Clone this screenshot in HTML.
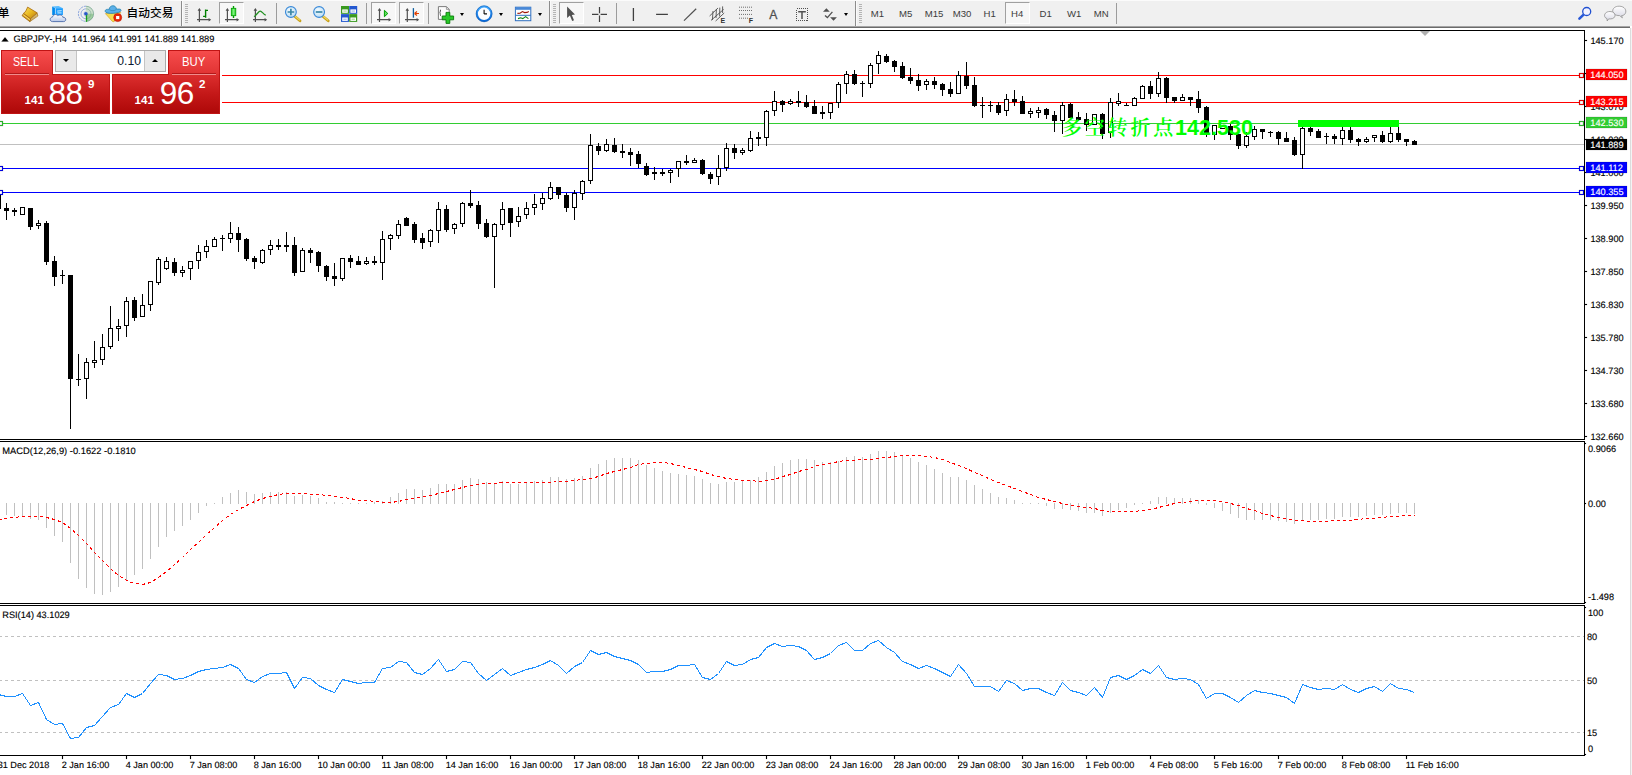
<!DOCTYPE html>
<html lang="zh"><head><meta charset="utf-8"><title>GBPJPY-,H4</title>
<style>
html,body{margin:0;padding:0}
body{width:1632px;height:775px;overflow:hidden;background:#fff;position:relative;font-family:"Liberation Sans","Noto Sans CJK SC",sans-serif}
#tb{position:absolute;left:0;top:0;width:1632px;height:26px;background:#f0f0f0;border-top:1px solid #fbfbfb;box-sizing:border-box}
#tbl{position:absolute;left:0;top:26px;width:1630px;height:2px;background:linear-gradient(#a4a4a4 0 50%,#6a6a6a 50% 100%)}
.sep{position:absolute;top:3px;width:1px;height:21px;background:#9c9c9c}
.sepf{position:absolute;top:1px;width:1px;height:25px;background:#8c8c8c;box-shadow:1px 0 0 #fafafa}
.grip{position:absolute;top:4px;width:3px;height:20px;background:repeating-linear-gradient(#b4b4b4 0 1px,transparent 1px 2px)}
.pr{position:absolute;top:2px;height:22px;box-sizing:border-box;border:1px solid;border-color:#a0a0a0 #fff #fff #a0a0a0;background:#f7f7f7}
.tf{position:absolute;top:8.2px;font-size:9.6px;color:#3c3c3c;line-height:11px;white-space:nowrap}
.cj{position:absolute;font-size:11.7px;line-height:14px;color:#000;white-space:nowrap;font-weight:500}
.ic{position:absolute;top:0;left:0}
.dd{position:absolute;top:12.8px;width:0;height:0;border:2.9px solid transparent;border-top:3.5px solid #000;border-bottom:0}
/* trade panel */
#tp{position:absolute;left:0;top:46px;width:222px;height:70px;background:#fff}
.rb{position:absolute;box-sizing:border-box;border:1px solid #c01414;background:linear-gradient(#f24848 0%,#d82a2a 45%,#b40a0a 100%)}
.rt{position:absolute;color:#fff;white-space:nowrap}
</style></head><body>
<div id="tb"></div><div id="tbl"></div>
<span class="cj" style="left:-2.3px;top:5.7px">单</span>
<span class="cj" style="left:126.6px;top:5.7px">自动交易</span>
<div class="sepf" style="left:181px"></div><div class="grip" style="left:185px"></div>
<div class="pr" style="left:219px;width:25px"></div>
<div class="sep" style="left:276px"></div>
<div class="sep" style="left:366px"></div>
<div class="pr" style="left:371px;width:25px"></div>
<div class="pr" style="left:399px;width:25px"></div>
<div class="sep" style="left:428px"></div>
<div class="dd" style="left:460px"></div><div class="dd" style="left:499px"></div><div class="dd" style="left:538px"></div>
<div class="sepf" style="left:549px"></div><div class="grip" style="left:553px"></div>
<div class="pr" style="left:559px;width:25px"></div>
<div class="sep" style="left:616px"></div>
<div class="dd" style="left:844px"></div>
<div class="sepf" style="left:855px"></div><div class="grip" style="left:859px"></div>
<div class="pr" style="left:1005px;width:25px"></div>
<span class="tf" style="left:870.8px">M1</span><span class="tf" style="left:898.9px">M5</span><span class="tf" style="left:924.7px">M15</span><span class="tf" style="left:952.8px">M30</span><span class="tf" style="left:983.5px">H1</span><span class="tf" style="left:1011px">H4</span><span class="tf" style="left:1039.6px">D1</span><span class="tf" style="left:1067px">W1</span><span class="tf" style="left:1093.8px">MN</span>
<div class="sep" style="left:1116px"></div>
<svg width="1632" height="28" viewBox="0 0 1632 28" style="position:absolute;left:0;top:0">
<defs>
<linearGradient id="gold" x1="0" y1="0" x2="1" y2="1"><stop offset="0" stop-color="#f8e060"/><stop offset=".5" stop-color="#e8b820"/><stop offset="1" stop-color="#b87810"/></linearGradient>
<linearGradient id="cloud" x1="0" y1="0" x2="0" y2="1"><stop offset="0" stop-color="#ffffff"/><stop offset="1" stop-color="#b8c8e8"/></linearGradient>
<linearGradient id="blu" x1="0" y1="0" x2="0" y2="1"><stop offset="0" stop-color="#40a8ff"/><stop offset="1" stop-color="#0868d8"/></linearGradient>
<linearGradient id="grn" x1="0" y1="0" x2="1" y2="0"><stop offset="0" stop-color="#20d020"/><stop offset=".5" stop-color="#80f080"/><stop offset="1" stop-color="#20d020"/></linearGradient>
<radialGradient id="lens" cx=".4" cy=".35" r=".7"><stop offset="0" stop-color="#f4fbff"/><stop offset="1" stop-color="#b8dcf4"/></radialGradient>
<linearGradient id="bub" x1="0" y1="0" x2="0" y2="1"><stop offset="0" stop-color="#ffffff"/><stop offset="1" stop-color="#d8d8e4"/></linearGradient>
</defs>
<!-- book -->
<path d="M37.1 12.8 L37.9 16 L29.8 21.6 L30.4 18.6 Z" fill="#e8dca0" stroke="#a06810" stroke-width=".7"/>
<path d="M36.9 14.2 L30.2 19.8 M37.4 15.2 L30 20.8" stroke="#a87820" stroke-width=".5"/>
<path d="M23.6 13.4 L30.6 18.6 L29.8 21.6 L22.1 15.7 Z" fill="#d8a020" stroke="#9a6008" stroke-width=".8"/>
<path d="M23.2 14.6 L30.2 19.9" stroke="#f8e070" stroke-width=".9"/>
<path d="M27.6 7.1 L37.1 12.8 L30.6 18.6 L23.6 13.4 C25.6 12 26.6 9.6 27.6 7.1 Z" fill="url(#gold)" stroke="#a86a10" stroke-width=".8"/>
<!-- cloud server -->
<path d="M52.2 6.6 L55.4 8.2 L55.4 15 L52.2 15 Z" fill="#0088ec"/>
<path d="M52.2 6.6 L58.6 6.1 L62.9 8.2 L55.4 8.2 Z" fill="#58bcff"/>
<path d="M55.4 8.2 H62.9 V15 H55.4 Z" fill="#189cff"/>
<path d="M55.4 8.2 V15" stroke="#d8f0ff" stroke-width=".6"/>
<path d="M57.2 11.1 L61.7 10.7 M57.4 12.9 H61.6" stroke="#e8f6ff" stroke-width=".9"/>
<path d="M52.6 21.6 C49.4 21.6 49.4 17.3 52.6 17 C52.8 14.4 56.4 13.6 57.9 15.8 C59.4 14.2 62.6 15 62.8 17.2 C66.4 17 66.8 21.6 63.4 21.6 Z" fill="url(#cloud)" stroke="#4868a8" stroke-width=".9"/>
<!-- signal -->
<path d="M86 6.2 A7.6 7.6 0 0 1 86 21.4 L86 13.8 Z" fill="#78b878" opacity=".28"/>
<path d="M86 13.8 L93.4 13.8 A7.6 7.6 0 0 1 86 21.4 Z" fill="#58b058" opacity=".4"/>
<g fill="none" stroke-width="1">
<path d="M86 6.2 A7.6 7.6 0 0 0 86 21.4" stroke="#5078d0" opacity=".6" stroke-dasharray="2.2 .8"/>
<path d="M86 8.8 A5 5 0 0 0 86 18.8" stroke="#5078d0" opacity=".55"/>
<path d="M86 11 A2.9 2.9 0 0 0 86 16.6" stroke="#5078d0" opacity=".3"/>
<path d="M86 6.2 A7.6 7.6 0 0 1 86 21.4" stroke="#4a8a70" opacity=".55"/>
<path d="M86 8.8 A5 5 0 0 1 86 18.8" stroke="#6aa088" opacity=".5"/>
</g>
<path d="M86.5 14 L86.5 21.8" stroke="#18a018" stroke-width="1.3"/>
<circle cx="85.9" cy="13.7" r="1.8" fill="#2858c8"/>
<!-- expert -->
<path d="M105.4 13.6 L120.8 12.5 L114 21.8 L112.4 21.4 Z" fill="#f6dc50" stroke="#d09818" stroke-width=".6"/>
<path d="M105.2 11.4 C105 8.6 108.4 9.6 109.2 9.2 C109.8 4.6 116 4.6 116.4 9 C118 9.4 121.2 8.2 121 10.6 C120.6 13.6 105.6 14.6 105.2 11.4 Z" fill="#5cb0e8" stroke="#2080b0" stroke-width=".8"/>
<path d="M109.4 9.6 C111.4 11.2 114.6 11 116.4 9.4" fill="none" stroke="#2080b0" stroke-width=".6"/>
<circle cx="117.7" cy="17.6" r="4" fill="#e82808" stroke="#b81400" stroke-width=".6"/>
<rect x="116.1" y="16" width="3.2" height="3.1" fill="#fff"/>
<!-- chart-type icons axes -->
<g stroke="#505050" stroke-width="1.2" fill="#505050">
<path d="M199.4 9 V22 M197 19.7 H210" fill="none"/><path d="M197.6 10.8 L199.4 8 L201.2 10.8 Z M208.6 17.9 L211.2 19.7 L208.6 21.5 Z" stroke="none"/>
<path d="M227.4 9 V22 M225 19.7 H238" fill="none"/><path d="M225.6 10.8 L227.4 8 L229.2 10.8 Z M236.6 17.9 L239.2 19.7 L236.6 21.5 Z" stroke="none"/>
<path d="M255.4 9 V22 M253 19.7 H266" fill="none"/><path d="M253.6 10.8 L255.4 8 L257.2 10.8 Z M264.6 17.9 L267.2 19.7 L264.6 21.5 Z" stroke="none"/>
<path d="M379.5 9 V22 M377 19.7 H390" fill="none"/><path d="M377.7 10.8 L379.5 8 L381.3 10.8 Z M388.6 17.9 L391.2 19.7 L388.6 21.5 Z" stroke="none"/>
<path d="M407.3 9 V22 M405 19.7 H418" fill="none"/><path d="M405.5 10.8 L407.3 8 L409.1 10.8 Z M416.6 17.9 L419.2 19.7 L416.6 21.5 Z" stroke="none"/>
</g>
<path d="M205.6 9.4 V17.7 M205.6 10.4 H208 M203.1 16.4 H205.6" stroke="#008000" stroke-width="1.4" fill="none"/>
<path d="M233.5 6 V18" stroke="#00a000" stroke-width="1.4"/><rect x="231.3" y="8.3" width="4.5" height="7.4" fill="url(#grn)" stroke="#00a000" stroke-width=".8"/>
<path d="M254 16.6 C257 15 258.5 11 260.2 11.1 C262 11.2 263.5 14.6 265.8 15.2" stroke="#209020" stroke-width="1.2" fill="none"/>
<path d="M384.4 10.3 L387.8 13.5 L384.4 16.7 Z" fill="#60e060" stroke="#00a000" stroke-width="1"/>
<path d="M413.4 8.1 V17.7" stroke="#1060a0" stroke-width="1.3"/>
<path d="M414.4 13.5 H419 M414.4 13.5 L417 11.6 M414.4 13.5 L417 15.4" stroke="#e04000" stroke-width="1.2" fill="none"/>
<!-- zoom in/out -->
<path d="M294.6 16.2 L300 20.8" stroke="#c8a018" stroke-width="2.8" stroke-linecap="round"/><path d="M294.8 16 L300 20.4" stroke="#f0d860" stroke-width="1.2"/>
<circle cx="290.9" cy="12" r="5.4" fill="url(#lens)" stroke="#3888d8" stroke-width="1.1"/>
<path d="M287.6 12 H294.2 M290.9 8.7 V15.3" stroke="#3c88a8" stroke-width="1.7"/>
<path d="M322.8 16.2 L328.2 20.8" stroke="#c8a018" stroke-width="2.8" stroke-linecap="round"/><path d="M323 16 L328.2 20.4" stroke="#f0d860" stroke-width="1.2"/>
<circle cx="319.1" cy="12" r="5.4" fill="url(#lens)" stroke="#3888d8" stroke-width="1.1"/>
<path d="M315.8 12 H322.4" stroke="#3c88a8" stroke-width="1.7"/>
<!-- tile -->
<rect x="341" y="6" width="8" height="7.8" fill="#3a9a20"/><rect x="349.2" y="6" width="8" height="7.8" fill="#2458d0"/>
<rect x="341" y="14.1" width="8" height="7.8" fill="#2458d0"/><rect x="349.2" y="14.1" width="8" height="7.8" fill="#3a9a20"/>
<g fill="#fff"><rect x="342.2" y="9.4" width="5.6" height="3.4"/><rect x="350.4" y="9.4" width="5.6" height="3.4"/><rect x="342.2" y="17.5" width="5.6" height="3.4"/><rect x="350.4" y="17.5" width="5.6" height="3.4"/></g>
<g><rect x="343.3" y="10.6" width="3.4" height=".9" fill="#8cc878"/><rect x="351.5" y="10.6" width="3.4" height=".9" fill="#88a8e8"/><rect x="343.3" y="18.7" width="3.4" height=".9" fill="#88a8e8"/><rect x="351.5" y="18.7" width="3.4" height=".9" fill="#8cc878"/></g>
<!-- indicators -->
<path d="M438.4 6.6 H446.4 L449.2 9.4 V19.4 H438.4 Z" fill="#fcfcfc" stroke="#7c7c7c" stroke-width="1"/><path d="M446.4 6.6 V9.4 H449.2" fill="none" stroke="#7c7c7c" stroke-width=".7"/>
<path d="M441 9.5 C440 9.5 440.6 12.6 439.8 12.8 C440.6 13 440 16 441 16" stroke="#404040" stroke-width=".9" fill="none"/>
<path d="M446 12.4 H449.8 V16 H453.6 V19.8 H449.8 V23.4 H446 V19.8 H442.2 V16 H446 Z" fill="#28c828" stroke="#0a7a0a" stroke-width=".9"/>
<!-- clock -->
<circle cx="484.1" cy="13.8" r="7.2" fill="#fafcff" stroke="url(#blu)" stroke-width="2"/>
<circle cx="484.1" cy="13.8" r="8" fill="none" stroke="#0850a8" stroke-width=".5"/>
<path d="M484.1 13.9 V9.8 M484.1 13.9 H487" stroke="#101010" stroke-width="1.1" fill="none"/>
<!-- templates -->
<rect x="515.4" y="7.2" width="15.4" height="13.5" fill="#fff" stroke="#3070c0" stroke-width="1"/>
<rect x="515.4" y="7.2" width="15.4" height="2.6" fill="#4888d8"/>
<path d="M515.4 15.3 H530.8" stroke="#3070c0" stroke-width="1"/>
<path d="M517.4 13.4 L520 13.2 L522.4 11.6 L524.6 12.6 L527 12.4 L528.8 11.4" stroke="#a01808" stroke-width="1.1" fill="none"/>
<path d="M518 18.6 L520.6 17.8 L522.8 18.6 L525.6 16.6 L528.4 18.6" stroke="#108010" stroke-width="1.1" fill="none"/>
<!-- cursor -->
<path d="M567.1 6.6 V18 L569.9 15.6 L572.2 21 L574 20.2 L571.8 15 L575 14.4 Z" fill="#505050"/>
<!-- crosshair -->
<path d="M592 14.4 H598.4 M600.6 14.4 H607 M599.5 7.1 V13.3 M599.5 15.5 V21.9" stroke="#404040" stroke-width="1.2" fill="none"/>
<!-- lines -->
<path d="M633.4 8.1 V20.9 M656.1 14.4 H667.9" stroke="#404040" stroke-width="1.3" fill="none"/>
<path d="M684 20.6 L696.2 8.8" stroke="#505050" stroke-width="1.2"/>
<g stroke="#505050" stroke-width=".9" fill="none"><path d="M709.6 16 L718 8 M711 20.4 L723.6 9.4 M715.6 21 L724.2 13"/><path d="M713 11 L712.4 20 M716.4 9 L716 18 M719.8 7.6 L719.6 16.4 M722.6 6.4 L722.6 13"/></g>
<text x="720.6" y="22.7" font-family="Liberation Sans, sans-serif" font-weight="bold" font-size="7" fill="#303030">E</text>
<g stroke="#606060" stroke-width=".9" stroke-dasharray="1 1" fill="none"><path d="M739 7.2 H752.4 M739 10.5 H752.4 M739 14.4 H752.4 M739 18.2 H748"/></g>
<text x="748.7" y="22.7" font-family="Liberation Sans, sans-serif" font-weight="bold" font-size="7" fill="#303030">F</text>
<text x="769.2" y="18.9" font-family="Liberation Sans, sans-serif" font-size="12.2" fill="#505050" stroke="#505050" stroke-width=".3">A</text>
<rect x="796.5" y="8.5" width="11" height="12" fill="none" stroke="#505050" stroke-width="1" stroke-dasharray="1 1" shape-rendering="crispEdges"/>
<path d="M798.2 11.8 H805.8 M802 11.8 V18.9" stroke="#505050" stroke-width="1.5" fill="none"/>
<path d="M826.4 8.2 L829.8 11.8 H823 Z M833.5 20.8 L830.1 17.2 H836.9 Z" fill="#505050"/><path d="M825 15.4 L827.4 17.6 L832.4 11.8" stroke="#505050" stroke-width="1.3" fill="none"/>
<!-- search + chat -->
<path d="M1583.6 14.6 L1579.4 18.6" stroke="#2858d8" stroke-width="2.6" stroke-linecap="round"/>
<circle cx="1586.7" cy="11.5" r="4" fill="#f2f2ff" stroke="#2050d0" stroke-width="1.3"/>
<path d="M1619.1 6.2 C1627.6 6.2 1627.6 15.4 1621.6 15.6 L1622.4 17.8 L1619.6 15.6 C1610.4 15.8 1610.6 6.2 1619.1 6.2 Z" fill="url(#bub)" stroke="#909090" stroke-width=".8"/>
<path d="M1610 11.5 C1616.6 11.5 1616.6 18.9 1610.6 18.9 L1608.6 18.9 L1607.2 21 L1607 18.6 C1603.2 17.6 1603.6 11.5 1610 11.5 Z" fill="url(#bub)" stroke="#909090" stroke-width=".8"/>
</svg>

<svg width="1632" height="775" viewBox="0 0 1632 775" style="position:absolute;left:0;top:0" shape-rendering="crispEdges">
<rect x="222" y="75" width="1362" height="1" fill="#ff0000"/>
<rect x="222" y="102" width="1362" height="1" fill="#ff0000"/>
<rect x="0" y="123" width="1584" height="1" fill="#32cd32"/>
<rect x="0" y="144" width="1584" height="1" fill="#c0c0c0"/>
<rect x="0" y="168" width="1584" height="1" fill="#0000ff"/>
<rect x="0" y="192" width="1584" height="1" fill="#0000ff"/>
<g id="candles">
<rect x="-4" y="192" width="5" height="17" fill="#000"/>
<rect x="6" y="203" width="1" height="17" fill="#000"/>
<rect x="4" y="208" width="5" height="3" fill="#000"/>
<rect x="14" y="208" width="1" height="8" fill="#000"/>
<rect x="12" y="210" width="5" height="2" fill="#000"/>
<rect x="22" y="207" width="1" height="8" fill="#000"/>
<rect x="20" y="207" width="5" height="8" fill="#000"/>
<rect x="21" y="208" width="3" height="6" fill="#fff"/>
<rect x="30" y="208" width="1" height="22" fill="#000"/>
<rect x="28" y="208" width="5" height="19" fill="#000"/>
<rect x="38" y="220" width="1" height="9" fill="#000"/>
<rect x="36" y="223" width="5" height="3" fill="#000"/>
<rect x="37" y="224" width="3" height="1" fill="#fff"/>
<rect x="46" y="221" width="1" height="44" fill="#000"/>
<rect x="44" y="223" width="5" height="39" fill="#000"/>
<rect x="54" y="256" width="1" height="30" fill="#000"/>
<rect x="52" y="261" width="5" height="16" fill="#000"/>
<rect x="62" y="270" width="1" height="14" fill="#000"/>
<rect x="60" y="275" width="5" height="1" fill="#000"/>
<rect x="70" y="275" width="1" height="154" fill="#000"/>
<rect x="68" y="275" width="5" height="104" fill="#000"/>
<rect x="78" y="354" width="1" height="32" fill="#000"/>
<rect x="76" y="379" width="5" height="1" fill="#000"/>
<rect x="86" y="358" width="1" height="41" fill="#000"/>
<rect x="84" y="362" width="5" height="17" fill="#000"/>
<rect x="85" y="363" width="3" height="15" fill="#fff"/>
<rect x="94" y="341" width="1" height="27" fill="#000"/>
<rect x="92" y="360" width="5" height="3" fill="#000"/>
<rect x="93" y="361" width="3" height="1" fill="#fff"/>
<rect x="102" y="334" width="1" height="31" fill="#000"/>
<rect x="100" y="347" width="5" height="13" fill="#000"/>
<rect x="101" y="348" width="3" height="11" fill="#fff"/>
<rect x="110" y="306" width="1" height="43" fill="#000"/>
<rect x="108" y="328" width="5" height="19" fill="#000"/>
<rect x="109" y="329" width="3" height="17" fill="#fff"/>
<rect x="118" y="319" width="1" height="22" fill="#000"/>
<rect x="116" y="326" width="5" height="3" fill="#000"/>
<rect x="117" y="327" width="3" height="1" fill="#fff"/>
<rect x="126" y="297" width="1" height="40" fill="#000"/>
<rect x="124" y="301" width="5" height="25" fill="#000"/>
<rect x="125" y="302" width="3" height="23" fill="#fff"/>
<rect x="134" y="297" width="1" height="24" fill="#000"/>
<rect x="132" y="300" width="5" height="18" fill="#000"/>
<rect x="142" y="294" width="1" height="23" fill="#000"/>
<rect x="140" y="305" width="5" height="12" fill="#000"/>
<rect x="141" y="306" width="3" height="10" fill="#fff"/>
<rect x="150" y="281" width="1" height="30" fill="#000"/>
<rect x="148" y="281" width="5" height="24" fill="#000"/>
<rect x="149" y="282" width="3" height="22" fill="#fff"/>
<rect x="158" y="257" width="1" height="28" fill="#000"/>
<rect x="156" y="259" width="5" height="24" fill="#000"/>
<rect x="157" y="260" width="3" height="22" fill="#fff"/>
<rect x="166" y="257" width="1" height="13" fill="#000"/>
<rect x="164" y="261" width="5" height="8" fill="#000"/>
<rect x="165" y="262" width="3" height="6" fill="#fff"/>
<rect x="174" y="258" width="1" height="18" fill="#000"/>
<rect x="172" y="262" width="5" height="11" fill="#000"/>
<rect x="182" y="266" width="1" height="11" fill="#000"/>
<rect x="180" y="270" width="5" height="3" fill="#000"/>
<rect x="181" y="271" width="3" height="1" fill="#fff"/>
<rect x="190" y="261" width="1" height="19" fill="#000"/>
<rect x="188" y="261" width="5" height="8" fill="#000"/>
<rect x="189" y="262" width="3" height="6" fill="#fff"/>
<rect x="198" y="245" width="1" height="24" fill="#000"/>
<rect x="196" y="252" width="5" height="9" fill="#000"/>
<rect x="197" y="253" width="3" height="7" fill="#fff"/>
<rect x="206" y="240" width="1" height="18" fill="#000"/>
<rect x="204" y="246" width="5" height="6" fill="#000"/>
<rect x="205" y="247" width="3" height="4" fill="#fff"/>
<rect x="214" y="237" width="1" height="10" fill="#000"/>
<rect x="212" y="239" width="5" height="8" fill="#000"/>
<rect x="213" y="240" width="3" height="6" fill="#fff"/>
<rect x="222" y="235" width="1" height="16" fill="#000"/>
<rect x="220" y="238" width="5" height="1" fill="#000"/>
<rect x="230" y="222" width="1" height="21" fill="#000"/>
<rect x="228" y="233" width="5" height="6" fill="#000"/>
<rect x="229" y="234" width="3" height="4" fill="#fff"/>
<rect x="238" y="227" width="1" height="25" fill="#000"/>
<rect x="236" y="233" width="5" height="7" fill="#000"/>
<rect x="246" y="238" width="1" height="23" fill="#000"/>
<rect x="244" y="239" width="5" height="20" fill="#000"/>
<rect x="254" y="256" width="1" height="13" fill="#000"/>
<rect x="252" y="258" width="5" height="4" fill="#000"/>
<rect x="262" y="249" width="1" height="15" fill="#000"/>
<rect x="260" y="250" width="5" height="13" fill="#000"/>
<rect x="261" y="251" width="3" height="11" fill="#fff"/>
<rect x="270" y="240" width="1" height="15" fill="#000"/>
<rect x="268" y="245" width="5" height="5" fill="#000"/>
<rect x="269" y="246" width="3" height="3" fill="#fff"/>
<rect x="278" y="239" width="1" height="11" fill="#000"/>
<rect x="276" y="245" width="5" height="2" fill="#000"/>
<rect x="286" y="232" width="1" height="20" fill="#000"/>
<rect x="284" y="245" width="5" height="2" fill="#000"/>
<rect x="294" y="237" width="1" height="39" fill="#000"/>
<rect x="292" y="245" width="5" height="28" fill="#000"/>
<rect x="302" y="248" width="1" height="24" fill="#000"/>
<rect x="300" y="250" width="5" height="22" fill="#000"/>
<rect x="301" y="251" width="3" height="20" fill="#fff"/>
<rect x="310" y="248" width="1" height="15" fill="#000"/>
<rect x="308" y="250" width="5" height="3" fill="#000"/>
<rect x="318" y="251" width="1" height="21" fill="#000"/>
<rect x="316" y="252" width="5" height="14" fill="#000"/>
<rect x="326" y="265" width="1" height="16" fill="#000"/>
<rect x="324" y="266" width="5" height="11" fill="#000"/>
<rect x="334" y="263" width="1" height="23" fill="#000"/>
<rect x="332" y="276" width="5" height="3" fill="#000"/>
<rect x="342" y="258" width="1" height="23" fill="#000"/>
<rect x="340" y="258" width="5" height="21" fill="#000"/>
<rect x="341" y="259" width="3" height="19" fill="#fff"/>
<rect x="350" y="255" width="1" height="13" fill="#000"/>
<rect x="348" y="258" width="5" height="4" fill="#000"/>
<rect x="358" y="256" width="1" height="9" fill="#000"/>
<rect x="356" y="261" width="5" height="4" fill="#000"/>
<rect x="366" y="257" width="1" height="8" fill="#000"/>
<rect x="364" y="261" width="5" height="3" fill="#000"/>
<rect x="365" y="262" width="3" height="1" fill="#fff"/>
<rect x="374" y="256" width="1" height="9" fill="#000"/>
<rect x="372" y="261" width="5" height="2" fill="#000"/>
<rect x="382" y="231" width="1" height="49" fill="#000"/>
<rect x="380" y="239" width="5" height="24" fill="#000"/>
<rect x="381" y="240" width="3" height="22" fill="#fff"/>
<rect x="390" y="234" width="1" height="16" fill="#000"/>
<rect x="388" y="235" width="5" height="4" fill="#000"/>
<rect x="389" y="236" width="3" height="2" fill="#fff"/>
<rect x="398" y="220" width="1" height="19" fill="#000"/>
<rect x="396" y="224" width="5" height="12" fill="#000"/>
<rect x="397" y="225" width="3" height="10" fill="#fff"/>
<rect x="406" y="217" width="1" height="9" fill="#000"/>
<rect x="404" y="218" width="5" height="8" fill="#000"/>
<rect x="414" y="222" width="1" height="21" fill="#000"/>
<rect x="412" y="224" width="5" height="16" fill="#000"/>
<rect x="422" y="233" width="1" height="16" fill="#000"/>
<rect x="420" y="238" width="5" height="5" fill="#000"/>
<rect x="430" y="229" width="1" height="18" fill="#000"/>
<rect x="428" y="230" width="5" height="12" fill="#000"/>
<rect x="429" y="231" width="3" height="10" fill="#fff"/>
<rect x="438" y="202" width="1" height="41" fill="#000"/>
<rect x="436" y="209" width="5" height="22" fill="#000"/>
<rect x="437" y="210" width="3" height="20" fill="#fff"/>
<rect x="446" y="205" width="1" height="27" fill="#000"/>
<rect x="444" y="209" width="5" height="21" fill="#000"/>
<rect x="454" y="223" width="1" height="11" fill="#000"/>
<rect x="452" y="224" width="5" height="5" fill="#000"/>
<rect x="453" y="225" width="3" height="3" fill="#fff"/>
<rect x="462" y="202" width="1" height="25" fill="#000"/>
<rect x="460" y="203" width="5" height="21" fill="#000"/>
<rect x="461" y="204" width="3" height="19" fill="#fff"/>
<rect x="470" y="190" width="1" height="18" fill="#000"/>
<rect x="468" y="203" width="5" height="3" fill="#000"/>
<rect x="478" y="201" width="1" height="28" fill="#000"/>
<rect x="476" y="205" width="5" height="19" fill="#000"/>
<rect x="486" y="219" width="1" height="19" fill="#000"/>
<rect x="484" y="223" width="5" height="14" fill="#000"/>
<rect x="494" y="223" width="1" height="65" fill="#000"/>
<rect x="492" y="224" width="5" height="13" fill="#000"/>
<rect x="493" y="225" width="3" height="11" fill="#fff"/>
<rect x="502" y="202" width="1" height="28" fill="#000"/>
<rect x="500" y="209" width="5" height="16" fill="#000"/>
<rect x="501" y="210" width="3" height="14" fill="#fff"/>
<rect x="510" y="208" width="1" height="29" fill="#000"/>
<rect x="508" y="208" width="5" height="15" fill="#000"/>
<rect x="518" y="207" width="1" height="20" fill="#000"/>
<rect x="516" y="216" width="5" height="6" fill="#000"/>
<rect x="517" y="217" width="3" height="4" fill="#fff"/>
<rect x="526" y="202" width="1" height="17" fill="#000"/>
<rect x="524" y="208" width="5" height="7" fill="#000"/>
<rect x="525" y="209" width="3" height="5" fill="#fff"/>
<rect x="534" y="194" width="1" height="21" fill="#000"/>
<rect x="532" y="204" width="5" height="4" fill="#000"/>
<rect x="533" y="205" width="3" height="2" fill="#fff"/>
<rect x="542" y="193" width="1" height="17" fill="#000"/>
<rect x="540" y="198" width="5" height="6" fill="#000"/>
<rect x="541" y="199" width="3" height="4" fill="#fff"/>
<rect x="550" y="182" width="1" height="18" fill="#000"/>
<rect x="548" y="187" width="5" height="12" fill="#000"/>
<rect x="549" y="188" width="3" height="10" fill="#fff"/>
<rect x="558" y="187" width="1" height="12" fill="#000"/>
<rect x="556" y="187" width="5" height="8" fill="#000"/>
<rect x="566" y="193" width="1" height="19" fill="#000"/>
<rect x="564" y="195" width="5" height="13" fill="#000"/>
<rect x="574" y="190" width="1" height="30" fill="#000"/>
<rect x="572" y="193" width="5" height="15" fill="#000"/>
<rect x="573" y="194" width="3" height="13" fill="#fff"/>
<rect x="582" y="180" width="1" height="20" fill="#000"/>
<rect x="580" y="181" width="5" height="13" fill="#000"/>
<rect x="581" y="182" width="3" height="11" fill="#fff"/>
<rect x="590" y="134" width="1" height="50" fill="#000"/>
<rect x="588" y="145" width="5" height="36" fill="#000"/>
<rect x="589" y="146" width="3" height="34" fill="#fff"/>
<rect x="598" y="143" width="1" height="12" fill="#000"/>
<rect x="596" y="146" width="5" height="5" fill="#000"/>
<rect x="606" y="139" width="1" height="13" fill="#000"/>
<rect x="604" y="144" width="5" height="7" fill="#000"/>
<rect x="605" y="145" width="3" height="5" fill="#fff"/>
<rect x="614" y="138" width="1" height="15" fill="#000"/>
<rect x="612" y="145" width="5" height="7" fill="#000"/>
<rect x="622" y="144" width="1" height="14" fill="#000"/>
<rect x="620" y="151" width="5" height="2" fill="#000"/>
<rect x="630" y="148" width="1" height="18" fill="#000"/>
<rect x="628" y="152" width="5" height="3" fill="#000"/>
<rect x="638" y="151" width="1" height="17" fill="#000"/>
<rect x="636" y="154" width="5" height="10" fill="#000"/>
<rect x="646" y="163" width="1" height="13" fill="#000"/>
<rect x="644" y="166" width="5" height="9" fill="#000"/>
<rect x="654" y="167" width="1" height="13" fill="#000"/>
<rect x="652" y="172" width="5" height="2" fill="#000"/>
<rect x="662" y="169" width="1" height="7" fill="#000"/>
<rect x="660" y="172" width="5" height="2" fill="#000"/>
<rect x="670" y="169" width="1" height="14" fill="#000"/>
<rect x="668" y="170" width="5" height="3" fill="#000"/>
<rect x="669" y="171" width="3" height="1" fill="#fff"/>
<rect x="678" y="161" width="1" height="16" fill="#000"/>
<rect x="676" y="161" width="5" height="8" fill="#000"/>
<rect x="677" y="162" width="3" height="6" fill="#fff"/>
<rect x="686" y="155" width="1" height="10" fill="#000"/>
<rect x="684" y="161" width="5" height="2" fill="#000"/>
<rect x="694" y="158" width="1" height="5" fill="#000"/>
<rect x="692" y="160" width="5" height="3" fill="#000"/>
<rect x="693" y="161" width="3" height="1" fill="#fff"/>
<rect x="702" y="159" width="1" height="16" fill="#000"/>
<rect x="700" y="160" width="5" height="14" fill="#000"/>
<rect x="710" y="172" width="1" height="12" fill="#000"/>
<rect x="708" y="174" width="5" height="5" fill="#000"/>
<rect x="718" y="155" width="1" height="30" fill="#000"/>
<rect x="716" y="168" width="5" height="9" fill="#000"/>
<rect x="717" y="169" width="3" height="7" fill="#fff"/>
<rect x="726" y="143" width="1" height="28" fill="#000"/>
<rect x="724" y="148" width="5" height="20" fill="#000"/>
<rect x="725" y="149" width="3" height="18" fill="#fff"/>
<rect x="734" y="144" width="1" height="15" fill="#000"/>
<rect x="732" y="148" width="5" height="5" fill="#000"/>
<rect x="742" y="148" width="1" height="7" fill="#000"/>
<rect x="740" y="150" width="5" height="3" fill="#000"/>
<rect x="741" y="151" width="3" height="1" fill="#fff"/>
<rect x="750" y="131" width="1" height="21" fill="#000"/>
<rect x="748" y="138" width="5" height="13" fill="#000"/>
<rect x="749" y="139" width="3" height="11" fill="#fff"/>
<rect x="758" y="132" width="1" height="14" fill="#000"/>
<rect x="756" y="137" width="5" height="2" fill="#000"/>
<rect x="766" y="110" width="1" height="36" fill="#000"/>
<rect x="764" y="111" width="5" height="27" fill="#000"/>
<rect x="765" y="112" width="3" height="25" fill="#fff"/>
<rect x="774" y="91" width="1" height="25" fill="#000"/>
<rect x="772" y="101" width="5" height="10" fill="#000"/>
<rect x="773" y="102" width="3" height="8" fill="#fff"/>
<rect x="782" y="100" width="1" height="12" fill="#000"/>
<rect x="780" y="101" width="5" height="4" fill="#000"/>
<rect x="790" y="99" width="1" height="6" fill="#000"/>
<rect x="788" y="101" width="5" height="3" fill="#000"/>
<rect x="789" y="102" width="3" height="1" fill="#fff"/>
<rect x="798" y="91" width="1" height="16" fill="#000"/>
<rect x="796" y="101" width="5" height="2" fill="#000"/>
<rect x="806" y="95" width="1" height="13" fill="#000"/>
<rect x="804" y="102" width="5" height="5" fill="#000"/>
<rect x="814" y="100" width="1" height="14" fill="#000"/>
<rect x="812" y="106" width="5" height="8" fill="#000"/>
<rect x="822" y="106" width="1" height="13" fill="#000"/>
<rect x="820" y="112" width="5" height="2" fill="#000"/>
<rect x="830" y="103" width="1" height="16" fill="#000"/>
<rect x="828" y="103" width="5" height="10" fill="#000"/>
<rect x="829" y="104" width="3" height="8" fill="#fff"/>
<rect x="838" y="82" width="1" height="26" fill="#000"/>
<rect x="836" y="84" width="5" height="19" fill="#000"/>
<rect x="837" y="85" width="3" height="17" fill="#fff"/>
<rect x="846" y="71" width="1" height="23" fill="#000"/>
<rect x="844" y="74" width="5" height="10" fill="#000"/>
<rect x="845" y="75" width="3" height="8" fill="#fff"/>
<rect x="854" y="70" width="1" height="15" fill="#000"/>
<rect x="852" y="74" width="5" height="10" fill="#000"/>
<rect x="862" y="81" width="1" height="16" fill="#000"/>
<rect x="860" y="83" width="5" height="1" fill="#000"/>
<rect x="870" y="63" width="1" height="25" fill="#000"/>
<rect x="868" y="65" width="5" height="19" fill="#000"/>
<rect x="869" y="66" width="3" height="17" fill="#fff"/>
<rect x="878" y="51" width="1" height="23" fill="#000"/>
<rect x="876" y="55" width="5" height="9" fill="#000"/>
<rect x="877" y="56" width="3" height="7" fill="#fff"/>
<rect x="886" y="54" width="1" height="9" fill="#000"/>
<rect x="884" y="56" width="5" height="6" fill="#000"/>
<rect x="894" y="60" width="1" height="12" fill="#000"/>
<rect x="892" y="61" width="5" height="6" fill="#000"/>
<rect x="902" y="62" width="1" height="17" fill="#000"/>
<rect x="900" y="66" width="5" height="12" fill="#000"/>
<rect x="910" y="68" width="1" height="16" fill="#000"/>
<rect x="908" y="77" width="5" height="4" fill="#000"/>
<rect x="918" y="74" width="1" height="17" fill="#000"/>
<rect x="916" y="80" width="5" height="6" fill="#000"/>
<rect x="926" y="79" width="1" height="11" fill="#000"/>
<rect x="924" y="81" width="5" height="4" fill="#000"/>
<rect x="925" y="82" width="3" height="2" fill="#fff"/>
<rect x="934" y="77" width="1" height="12" fill="#000"/>
<rect x="932" y="81" width="5" height="4" fill="#000"/>
<rect x="942" y="83" width="1" height="13" fill="#000"/>
<rect x="940" y="84" width="5" height="6" fill="#000"/>
<rect x="950" y="82" width="1" height="15" fill="#000"/>
<rect x="948" y="89" width="5" height="5" fill="#000"/>
<rect x="958" y="71" width="1" height="23" fill="#000"/>
<rect x="956" y="75" width="5" height="19" fill="#000"/>
<rect x="957" y="76" width="3" height="17" fill="#fff"/>
<rect x="966" y="62" width="1" height="27" fill="#000"/>
<rect x="964" y="76" width="5" height="10" fill="#000"/>
<rect x="974" y="77" width="1" height="30" fill="#000"/>
<rect x="972" y="85" width="5" height="21" fill="#000"/>
<rect x="982" y="97" width="1" height="21" fill="#000"/>
<rect x="980" y="105" width="5" height="1" fill="#000"/>
<rect x="990" y="101" width="1" height="11" fill="#000"/>
<rect x="988" y="105" width="5" height="1" fill="#000"/>
<rect x="998" y="102" width="1" height="13" fill="#000"/>
<rect x="996" y="105" width="5" height="8" fill="#000"/>
<rect x="1006" y="94" width="1" height="22" fill="#000"/>
<rect x="1004" y="99" width="5" height="12" fill="#000"/>
<rect x="1005" y="100" width="3" height="10" fill="#fff"/>
<rect x="1014" y="90" width="1" height="16" fill="#000"/>
<rect x="1012" y="99" width="5" height="3" fill="#000"/>
<rect x="1022" y="96" width="1" height="18" fill="#000"/>
<rect x="1020" y="101" width="5" height="13" fill="#000"/>
<rect x="1030" y="108" width="1" height="10" fill="#000"/>
<rect x="1028" y="111" width="5" height="3" fill="#000"/>
<rect x="1029" y="112" width="3" height="1" fill="#fff"/>
<rect x="1038" y="107" width="1" height="11" fill="#000"/>
<rect x="1036" y="110" width="5" height="3" fill="#000"/>
<rect x="1037" y="111" width="3" height="1" fill="#fff"/>
<rect x="1046" y="108" width="1" height="11" fill="#000"/>
<rect x="1044" y="109" width="5" height="6" fill="#000"/>
<rect x="1054" y="111" width="1" height="21" fill="#000"/>
<rect x="1052" y="115" width="5" height="6" fill="#000"/>
<rect x="1062" y="102" width="1" height="32" fill="#000"/>
<rect x="1060" y="105" width="5" height="16" fill="#000"/>
<rect x="1061" y="106" width="3" height="14" fill="#fff"/>
<rect x="1070" y="103" width="1" height="15" fill="#000"/>
<rect x="1068" y="104" width="5" height="14" fill="#000"/>
<rect x="1078" y="112" width="1" height="9" fill="#000"/>
<rect x="1076" y="117" width="5" height="3" fill="#000"/>
<rect x="1086" y="113" width="1" height="18" fill="#000"/>
<rect x="1084" y="119" width="5" height="6" fill="#000"/>
<rect x="1094" y="114" width="1" height="11" fill="#000"/>
<rect x="1092" y="114" width="5" height="11" fill="#000"/>
<rect x="1093" y="115" width="3" height="9" fill="#fff"/>
<rect x="1102" y="113" width="1" height="26" fill="#000"/>
<rect x="1100" y="114" width="5" height="20" fill="#000"/>
<rect x="1110" y="98" width="1" height="40" fill="#000"/>
<rect x="1108" y="102" width="5" height="31" fill="#000"/>
<rect x="1109" y="103" width="3" height="29" fill="#fff"/>
<rect x="1118" y="93" width="1" height="13" fill="#000"/>
<rect x="1116" y="101" width="5" height="3" fill="#000"/>
<rect x="1117" y="102" width="3" height="1" fill="#fff"/>
<rect x="1126" y="103" width="1" height="3" fill="#000"/>
<rect x="1124" y="105" width="5" height="1" fill="#000"/>
<rect x="1134" y="97" width="1" height="9" fill="#000"/>
<rect x="1132" y="98" width="5" height="8" fill="#000"/>
<rect x="1133" y="99" width="3" height="6" fill="#fff"/>
<rect x="1142" y="85" width="1" height="14" fill="#000"/>
<rect x="1140" y="86" width="5" height="13" fill="#000"/>
<rect x="1141" y="87" width="3" height="11" fill="#fff"/>
<rect x="1150" y="81" width="1" height="18" fill="#000"/>
<rect x="1148" y="86" width="5" height="8" fill="#000"/>
<rect x="1158" y="72" width="1" height="25" fill="#000"/>
<rect x="1156" y="78" width="5" height="16" fill="#000"/>
<rect x="1157" y="79" width="3" height="14" fill="#fff"/>
<rect x="1166" y="77" width="1" height="26" fill="#000"/>
<rect x="1164" y="78" width="5" height="20" fill="#000"/>
<rect x="1174" y="97" width="1" height="6" fill="#000"/>
<rect x="1172" y="97" width="5" height="4" fill="#000"/>
<rect x="1182" y="94" width="1" height="7" fill="#000"/>
<rect x="1180" y="97" width="5" height="4" fill="#000"/>
<rect x="1181" y="98" width="3" height="2" fill="#fff"/>
<rect x="1190" y="97" width="1" height="9" fill="#000"/>
<rect x="1188" y="97" width="5" height="3" fill="#000"/>
<rect x="1198" y="91" width="1" height="22" fill="#000"/>
<rect x="1196" y="99" width="5" height="9" fill="#000"/>
<rect x="1206" y="106" width="1" height="31" fill="#000"/>
<rect x="1204" y="107" width="5" height="28" fill="#000"/>
<rect x="1214" y="125" width="1" height="15" fill="#000"/>
<rect x="1212" y="125" width="5" height="10" fill="#000"/>
<rect x="1213" y="126" width="3" height="8" fill="#fff"/>
<rect x="1220" y="128" width="5" height="1" fill="#000"/>
<rect x="1230" y="124" width="1" height="16" fill="#000"/>
<rect x="1228" y="126" width="5" height="9" fill="#000"/>
<rect x="1238" y="134" width="1" height="15" fill="#000"/>
<rect x="1236" y="134" width="5" height="12" fill="#000"/>
<rect x="1246" y="132" width="1" height="16" fill="#000"/>
<rect x="1244" y="136" width="5" height="10" fill="#000"/>
<rect x="1245" y="137" width="3" height="8" fill="#fff"/>
<rect x="1254" y="126" width="1" height="14" fill="#000"/>
<rect x="1252" y="129" width="5" height="8" fill="#000"/>
<rect x="1253" y="130" width="3" height="6" fill="#fff"/>
<rect x="1262" y="129" width="1" height="10" fill="#000"/>
<rect x="1260" y="129" width="5" height="3" fill="#000"/>
<rect x="1270" y="131" width="1" height="6" fill="#000"/>
<rect x="1268" y="132" width="5" height="1" fill="#000"/>
<rect x="1278" y="131" width="1" height="14" fill="#000"/>
<rect x="1276" y="132" width="5" height="7" fill="#000"/>
<rect x="1286" y="132" width="1" height="10" fill="#000"/>
<rect x="1284" y="138" width="5" height="4" fill="#000"/>
<rect x="1294" y="137" width="1" height="19" fill="#000"/>
<rect x="1292" y="140" width="5" height="15" fill="#000"/>
<rect x="1302" y="124" width="1" height="45" fill="#000"/>
<rect x="1300" y="128" width="5" height="27" fill="#000"/>
<rect x="1301" y="129" width="3" height="25" fill="#fff"/>
<rect x="1310" y="124" width="1" height="12" fill="#000"/>
<rect x="1308" y="128" width="5" height="4" fill="#000"/>
<rect x="1318" y="129" width="1" height="9" fill="#000"/>
<rect x="1316" y="131" width="5" height="7" fill="#000"/>
<rect x="1326" y="133" width="1" height="11" fill="#000"/>
<rect x="1324" y="136" width="5" height="1" fill="#000"/>
<rect x="1334" y="134" width="1" height="10" fill="#000"/>
<rect x="1332" y="136" width="5" height="3" fill="#000"/>
<rect x="1342" y="124" width="1" height="21" fill="#000"/>
<rect x="1340" y="130" width="5" height="9" fill="#000"/>
<rect x="1341" y="131" width="3" height="7" fill="#fff"/>
<rect x="1350" y="124" width="1" height="19" fill="#000"/>
<rect x="1348" y="130" width="5" height="10" fill="#000"/>
<rect x="1358" y="138" width="1" height="8" fill="#000"/>
<rect x="1356" y="139" width="5" height="3" fill="#000"/>
<rect x="1366" y="137" width="1" height="6" fill="#000"/>
<rect x="1364" y="139" width="5" height="3" fill="#000"/>
<rect x="1365" y="140" width="3" height="1" fill="#fff"/>
<rect x="1374" y="135" width="1" height="7" fill="#000"/>
<rect x="1372" y="135" width="5" height="3" fill="#000"/>
<rect x="1373" y="136" width="3" height="1" fill="#fff"/>
<rect x="1382" y="131" width="1" height="12" fill="#000"/>
<rect x="1380" y="135" width="5" height="7" fill="#000"/>
<rect x="1390" y="124" width="1" height="19" fill="#000"/>
<rect x="1388" y="133" width="5" height="9" fill="#000"/>
<rect x="1389" y="134" width="3" height="7" fill="#fff"/>
<rect x="1398" y="124" width="1" height="18" fill="#000"/>
<rect x="1396" y="133" width="5" height="7" fill="#000"/>
<rect x="1406" y="139" width="1" height="7" fill="#000"/>
<rect x="1404" y="139" width="5" height="3" fill="#000"/>
<rect x="1414" y="140" width="1" height="5" fill="#000"/>
<rect x="1412" y="141" width="5" height="4" fill="#000"/>
</g>
<rect x="1298" y="120" width="101" height="7" fill="#00ff00"/>
<g id="macd">
<rect x="6" y="503" width="1" height="12" fill="#c0c0c0"/>
<rect x="14" y="503" width="1" height="13" fill="#c0c0c0"/>
<rect x="22" y="503" width="1" height="14" fill="#c0c0c0"/>
<rect x="30" y="503" width="1" height="16" fill="#c0c0c0"/>
<rect x="38" y="503" width="1" height="17" fill="#c0c0c0"/>
<rect x="46" y="503" width="1" height="25" fill="#c0c0c0"/>
<rect x="54" y="503" width="1" height="33" fill="#c0c0c0"/>
<rect x="62" y="503" width="1" height="39" fill="#c0c0c0"/>
<rect x="70" y="503" width="1" height="60" fill="#c0c0c0"/>
<rect x="78" y="503" width="1" height="76" fill="#c0c0c0"/>
<rect x="86" y="503" width="1" height="85" fill="#c0c0c0"/>
<rect x="94" y="503" width="1" height="91" fill="#c0c0c0"/>
<rect x="102" y="503" width="1" height="92" fill="#c0c0c0"/>
<rect x="110" y="503" width="1" height="89" fill="#c0c0c0"/>
<rect x="118" y="503" width="1" height="84" fill="#c0c0c0"/>
<rect x="126" y="503" width="1" height="77" fill="#c0c0c0"/>
<rect x="134" y="503" width="1" height="72" fill="#c0c0c0"/>
<rect x="142" y="503" width="1" height="66" fill="#c0c0c0"/>
<rect x="150" y="503" width="1" height="56" fill="#c0c0c0"/>
<rect x="158" y="503" width="1" height="44" fill="#c0c0c0"/>
<rect x="166" y="503" width="1" height="34" fill="#c0c0c0"/>
<rect x="174" y="503" width="1" height="28" fill="#c0c0c0"/>
<rect x="182" y="503" width="1" height="23" fill="#c0c0c0"/>
<rect x="190" y="503" width="1" height="17" fill="#c0c0c0"/>
<rect x="198" y="503" width="1" height="10" fill="#c0c0c0"/>
<rect x="206" y="503" width="1" height="3" fill="#c0c0c0"/>
<rect x="214" y="503" width="1" height="1" fill="#c0c0c0"/>
<rect x="222" y="497" width="1" height="7" fill="#c0c0c0"/>
<rect x="230" y="493" width="1" height="11" fill="#c0c0c0"/>
<rect x="238" y="490" width="1" height="14" fill="#c0c0c0"/>
<rect x="246" y="492" width="1" height="12" fill="#c0c0c0"/>
<rect x="254" y="494" width="1" height="10" fill="#c0c0c0"/>
<rect x="262" y="493" width="1" height="11" fill="#c0c0c0"/>
<rect x="270" y="492" width="1" height="12" fill="#c0c0c0"/>
<rect x="278" y="492" width="1" height="12" fill="#c0c0c0"/>
<rect x="286" y="492" width="1" height="12" fill="#c0c0c0"/>
<rect x="294" y="496" width="1" height="8" fill="#c0c0c0"/>
<rect x="302" y="495" width="1" height="9" fill="#c0c0c0"/>
<rect x="310" y="496" width="1" height="8" fill="#c0c0c0"/>
<rect x="318" y="498" width="1" height="6" fill="#c0c0c0"/>
<rect x="326" y="502" width="1" height="2" fill="#c0c0c0"/>
<rect x="334" y="502" width="1" height="2" fill="#c0c0c0"/>
<rect x="342" y="503" width="1" height="1" fill="#c0c0c0"/>
<rect x="350" y="503" width="1" height="1" fill="#c0c0c0"/>
<rect x="358" y="503" width="1" height="1" fill="#c0c0c0"/>
<rect x="366" y="503" width="1" height="1" fill="#c0c0c0"/>
<rect x="374" y="502" width="1" height="2" fill="#c0c0c0"/>
<rect x="382" y="501" width="1" height="3" fill="#c0c0c0"/>
<rect x="390" y="497" width="1" height="7" fill="#c0c0c0"/>
<rect x="398" y="493" width="1" height="11" fill="#c0c0c0"/>
<rect x="406" y="489" width="1" height="15" fill="#c0c0c0"/>
<rect x="414" y="489" width="1" height="15" fill="#c0c0c0"/>
<rect x="422" y="490" width="1" height="14" fill="#c0c0c0"/>
<rect x="430" y="488" width="1" height="16" fill="#c0c0c0"/>
<rect x="438" y="484" width="1" height="20" fill="#c0c0c0"/>
<rect x="446" y="484" width="1" height="20" fill="#c0c0c0"/>
<rect x="454" y="484" width="1" height="20" fill="#c0c0c0"/>
<rect x="462" y="480" width="1" height="24" fill="#c0c0c0"/>
<rect x="470" y="478" width="1" height="26" fill="#c0c0c0"/>
<rect x="478" y="479" width="1" height="25" fill="#c0c0c0"/>
<rect x="486" y="482" width="1" height="22" fill="#c0c0c0"/>
<rect x="494" y="484" width="1" height="20" fill="#c0c0c0"/>
<rect x="502" y="481" width="1" height="23" fill="#c0c0c0"/>
<rect x="510" y="484" width="1" height="20" fill="#c0c0c0"/>
<rect x="518" y="484" width="1" height="20" fill="#c0c0c0"/>
<rect x="526" y="483" width="1" height="21" fill="#c0c0c0"/>
<rect x="534" y="481" width="1" height="23" fill="#c0c0c0"/>
<rect x="542" y="480" width="1" height="24" fill="#c0c0c0"/>
<rect x="550" y="477" width="1" height="27" fill="#c0c0c0"/>
<rect x="558" y="477" width="1" height="27" fill="#c0c0c0"/>
<rect x="566" y="479" width="1" height="25" fill="#c0c0c0"/>
<rect x="574" y="478" width="1" height="26" fill="#c0c0c0"/>
<rect x="582" y="476" width="1" height="28" fill="#c0c0c0"/>
<rect x="590" y="468" width="1" height="36" fill="#c0c0c0"/>
<rect x="598" y="464" width="1" height="40" fill="#c0c0c0"/>
<rect x="606" y="460" width="1" height="44" fill="#c0c0c0"/>
<rect x="614" y="458" width="1" height="46" fill="#c0c0c0"/>
<rect x="622" y="458" width="1" height="46" fill="#c0c0c0"/>
<rect x="630" y="458" width="1" height="46" fill="#c0c0c0"/>
<rect x="638" y="460" width="1" height="44" fill="#c0c0c0"/>
<rect x="646" y="465" width="1" height="39" fill="#c0c0c0"/>
<rect x="654" y="468" width="1" height="36" fill="#c0c0c0"/>
<rect x="662" y="471" width="1" height="33" fill="#c0c0c0"/>
<rect x="670" y="473" width="1" height="31" fill="#c0c0c0"/>
<rect x="678" y="474" width="1" height="30" fill="#c0c0c0"/>
<rect x="686" y="475" width="1" height="29" fill="#c0c0c0"/>
<rect x="694" y="476" width="1" height="28" fill="#c0c0c0"/>
<rect x="702" y="479" width="1" height="25" fill="#c0c0c0"/>
<rect x="710" y="483" width="1" height="21" fill="#c0c0c0"/>
<rect x="718" y="484" width="1" height="20" fill="#c0c0c0"/>
<rect x="726" y="482" width="1" height="22" fill="#c0c0c0"/>
<rect x="734" y="482" width="1" height="22" fill="#c0c0c0"/>
<rect x="742" y="481" width="1" height="23" fill="#c0c0c0"/>
<rect x="750" y="480" width="1" height="24" fill="#c0c0c0"/>
<rect x="758" y="477" width="1" height="27" fill="#c0c0c0"/>
<rect x="766" y="472" width="1" height="32" fill="#c0c0c0"/>
<rect x="774" y="466" width="1" height="38" fill="#c0c0c0"/>
<rect x="782" y="463" width="1" height="41" fill="#c0c0c0"/>
<rect x="790" y="460" width="1" height="44" fill="#c0c0c0"/>
<rect x="798" y="459" width="1" height="45" fill="#c0c0c0"/>
<rect x="806" y="459" width="1" height="45" fill="#c0c0c0"/>
<rect x="814" y="460" width="1" height="44" fill="#c0c0c0"/>
<rect x="822" y="462" width="1" height="42" fill="#c0c0c0"/>
<rect x="830" y="462" width="1" height="42" fill="#c0c0c0"/>
<rect x="838" y="461" width="1" height="43" fill="#c0c0c0"/>
<rect x="846" y="457" width="1" height="47" fill="#c0c0c0"/>
<rect x="854" y="456" width="1" height="48" fill="#c0c0c0"/>
<rect x="862" y="457" width="1" height="47" fill="#c0c0c0"/>
<rect x="870" y="454" width="1" height="50" fill="#c0c0c0"/>
<rect x="878" y="451" width="1" height="53" fill="#c0c0c0"/>
<rect x="886" y="451" width="1" height="53" fill="#c0c0c0"/>
<rect x="894" y="452" width="1" height="52" fill="#c0c0c0"/>
<rect x="902" y="455" width="1" height="49" fill="#c0c0c0"/>
<rect x="910" y="458" width="1" height="46" fill="#c0c0c0"/>
<rect x="918" y="462" width="1" height="42" fill="#c0c0c0"/>
<rect x="926" y="465" width="1" height="39" fill="#c0c0c0"/>
<rect x="934" y="469" width="1" height="35" fill="#c0c0c0"/>
<rect x="942" y="473" width="1" height="31" fill="#c0c0c0"/>
<rect x="950" y="477" width="1" height="27" fill="#c0c0c0"/>
<rect x="958" y="477" width="1" height="27" fill="#c0c0c0"/>
<rect x="966" y="480" width="1" height="24" fill="#c0c0c0"/>
<rect x="974" y="485" width="1" height="19" fill="#c0c0c0"/>
<rect x="982" y="489" width="1" height="15" fill="#c0c0c0"/>
<rect x="990" y="493" width="1" height="11" fill="#c0c0c0"/>
<rect x="998" y="497" width="1" height="7" fill="#c0c0c0"/>
<rect x="1006" y="498" width="1" height="6" fill="#c0c0c0"/>
<rect x="1014" y="500" width="1" height="4" fill="#c0c0c0"/>
<rect x="1022" y="503" width="1" height="1" fill="#c0c0c0"/>
<rect x="1030" y="503" width="1" height="1" fill="#c0c0c0"/>
<rect x="1038" y="503" width="1" height="1" fill="#c0c0c0"/>
<rect x="1046" y="503" width="1" height="3" fill="#c0c0c0"/>
<rect x="1054" y="503" width="1" height="6" fill="#c0c0c0"/>
<rect x="1062" y="503" width="1" height="6" fill="#c0c0c0"/>
<rect x="1070" y="503" width="1" height="7" fill="#c0c0c0"/>
<rect x="1078" y="503" width="1" height="8" fill="#c0c0c0"/>
<rect x="1086" y="503" width="1" height="10" fill="#c0c0c0"/>
<rect x="1094" y="503" width="1" height="10" fill="#c0c0c0"/>
<rect x="1102" y="503" width="1" height="13" fill="#c0c0c0"/>
<rect x="1110" y="503" width="1" height="10" fill="#c0c0c0"/>
<rect x="1118" y="503" width="1" height="7" fill="#c0c0c0"/>
<rect x="1126" y="503" width="1" height="5" fill="#c0c0c0"/>
<rect x="1134" y="503" width="1" height="2" fill="#c0c0c0"/>
<rect x="1142" y="503" width="1" height="1" fill="#c0c0c0"/>
<rect x="1150" y="501" width="1" height="3" fill="#c0c0c0"/>
<rect x="1158" y="497" width="1" height="7" fill="#c0c0c0"/>
<rect x="1166" y="497" width="1" height="7" fill="#c0c0c0"/>
<rect x="1174" y="498" width="1" height="6" fill="#c0c0c0"/>
<rect x="1182" y="498" width="1" height="6" fill="#c0c0c0"/>
<rect x="1190" y="498" width="1" height="6" fill="#c0c0c0"/>
<rect x="1198" y="500" width="1" height="4" fill="#c0c0c0"/>
<rect x="1206" y="503" width="1" height="2" fill="#c0c0c0"/>
<rect x="1214" y="503" width="1" height="5" fill="#c0c0c0"/>
<rect x="1222" y="503" width="1" height="8" fill="#c0c0c0"/>
<rect x="1230" y="503" width="1" height="11" fill="#c0c0c0"/>
<rect x="1238" y="503" width="1" height="15" fill="#c0c0c0"/>
<rect x="1246" y="503" width="1" height="17" fill="#c0c0c0"/>
<rect x="1254" y="503" width="1" height="17" fill="#c0c0c0"/>
<rect x="1262" y="503" width="1" height="17" fill="#c0c0c0"/>
<rect x="1270" y="503" width="1" height="17" fill="#c0c0c0"/>
<rect x="1278" y="503" width="1" height="18" fill="#c0c0c0"/>
<rect x="1286" y="503" width="1" height="19" fill="#c0c0c0"/>
<rect x="1294" y="503" width="1" height="21" fill="#c0c0c0"/>
<rect x="1302" y="503" width="1" height="18" fill="#c0c0c0"/>
<rect x="1310" y="503" width="1" height="17" fill="#c0c0c0"/>
<rect x="1318" y="503" width="1" height="17" fill="#c0c0c0"/>
<rect x="1326" y="503" width="1" height="16" fill="#c0c0c0"/>
<rect x="1334" y="503" width="1" height="16" fill="#c0c0c0"/>
<rect x="1342" y="503" width="1" height="14" fill="#c0c0c0"/>
<rect x="1350" y="503" width="1" height="14" fill="#c0c0c0"/>
<rect x="1358" y="503" width="1" height="14" fill="#c0c0c0"/>
<rect x="1366" y="503" width="1" height="13" fill="#c0c0c0"/>
<rect x="1374" y="503" width="1" height="12" fill="#c0c0c0"/>
<rect x="1382" y="503" width="1" height="12" fill="#c0c0c0"/>
<rect x="1390" y="503" width="1" height="11" fill="#c0c0c0"/>
<rect x="1398" y="503" width="1" height="10" fill="#c0c0c0"/>
<rect x="1406" y="503" width="1" height="10" fill="#c0c0c0"/>
<rect x="1414" y="503" width="1" height="11" fill="#c0c0c0"/>
<polyline fill="none" stroke="#ff0000" stroke-width="1" stroke-dasharray="3 3" points="-1.5,519.5 6.5,518.5 14.5,517.5 22.5,516.5 30.5,516.5 38.5,516.5 46.5,517.5 54.5,519.5 62.5,522.5 70.5,528.5 78.5,535.5 86.5,543.5 94.5,552.5 102.5,560.5 110.5,568.5 118.5,575.5 126.5,580.5 134.5,583.5 142.5,584.5 150.5,582.5 158.5,577.5 166.5,571.5 174.5,564.5 182.5,557.5 190.5,549.5 198.5,542.5 206.5,534.5 214.5,527.5 222.5,520.5 230.5,514.5 238.5,509.5 246.5,505.5 254.5,501.5 262.5,498.5 270.5,496.5 278.5,494.5 286.5,493.5 294.5,493.5 302.5,493.5 310.5,494.5 318.5,494.5 326.5,495.5 334.5,496.5 342.5,497.5 350.5,498.5 358.5,500.5 366.5,500.5 374.5,501.5 382.5,502.5 390.5,502.5 398.5,501.5 406.5,499.5 414.5,498.5 422.5,496.5 430.5,495.5 438.5,493.5 446.5,491.5 454.5,489.5 462.5,487.5 470.5,485.5 478.5,484.5 486.5,483.5 494.5,483.5 502.5,482.5 510.5,482.5 518.5,482.5 526.5,482.5 534.5,482.5 542.5,482.5 550.5,482.5 558.5,481.5 566.5,481.5 574.5,480.5 582.5,479.5 590.5,478.5 598.5,476.5 606.5,473.5 614.5,471.5 622.5,469.5 630.5,467.5 638.5,464.5 646.5,463.5 654.5,462.5 662.5,462.5 670.5,463.5 678.5,465.5 686.5,467.5 694.5,469.5 702.5,471.5 710.5,474.5 718.5,476.5 726.5,478.5 734.5,479.5 742.5,480.5 750.5,480.5 758.5,481.5 766.5,480.5 774.5,479.5 782.5,476.5 790.5,474.5 798.5,471.5 806.5,469.5 814.5,466.5 822.5,464.5 830.5,463.5 838.5,461.5 846.5,460.5 854.5,460.5 862.5,459.5 870.5,459.5 878.5,458.5 886.5,457.5 894.5,456.5 902.5,455.5 910.5,455.5 918.5,455.5 926.5,456.5 934.5,457.5 942.5,459.5 950.5,462.5 958.5,465.5 966.5,468.5 974.5,472.5 982.5,475.5 990.5,479.5 998.5,482.5 1006.5,485.5 1014.5,488.5 1022.5,491.5 1030.5,494.5 1038.5,497.5 1046.5,499.5 1054.5,501.5 1062.5,503.5 1070.5,505.5 1078.5,506.5 1086.5,507.5 1094.5,508.5 1102.5,510.5 1110.5,511.5 1118.5,511.5 1126.5,511.5 1134.5,511.5 1142.5,510.5 1150.5,509.5 1158.5,507.5 1166.5,505.5 1174.5,503.5 1182.5,502.5 1190.5,501.5 1198.5,500.5 1206.5,500.5 1214.5,500.5 1222.5,501.5 1230.5,503.5 1238.5,505.5 1246.5,508.5 1254.5,510.5 1262.5,513.5 1270.5,515.5 1278.5,517.5 1286.5,518.5 1294.5,520.5 1302.5,520.5 1310.5,521.5 1318.5,521.5 1326.5,521.5 1334.5,520.5 1342.5,520.5 1350.5,520.5 1358.5,519.5 1366.5,518.5 1374.5,518.5 1382.5,517.5 1390.5,516.5 1398.5,516.5 1406.5,515.5 1414.5,515.5"/>
</g>
<g id="rsi">
<line x1="-1" y1="636.5" x2="1584" y2="636.5" stroke="#c0c0c0" stroke-width="1" stroke-dasharray="3 3"/>
<line x1="-1" y1="680.5" x2="1584" y2="680.5" stroke="#c0c0c0" stroke-width="1" stroke-dasharray="3 3"/>
<line x1="-1" y1="732.5" x2="1584" y2="732.5" stroke="#c0c0c0" stroke-width="1" stroke-dasharray="3 3"/>
<polyline fill="none" stroke="#1e90ff" stroke-width="1" points="-1.5,694.5 6.5,696.5 14.5,696.5 22.5,693.5 30.5,705.5 38.5,702.5 46.5,719.5 54.5,724.5 62.5,723.5 70.5,738.5 78.5,737.5 86.5,727.5 94.5,725.5 102.5,716.5 110.5,707.5 118.5,704.5 126.5,693.5 134.5,697.5 142.5,693.5 150.5,683.5 158.5,674.5 166.5,675.5 174.5,679.5 182.5,678.5 190.5,675.5 198.5,671.5 206.5,669.5 214.5,668.5 222.5,667.5 230.5,664.5 238.5,668.5 246.5,679.5 254.5,682.5 262.5,676.5 270.5,673.5 278.5,673.5 286.5,672.5 294.5,688.5 302.5,677.5 310.5,678.5 318.5,685.5 326.5,689.5 334.5,692.5 342.5,679.5 350.5,681.5 358.5,683.5 366.5,682.5 374.5,682.5 382.5,668.5 390.5,667.5 398.5,661.5 406.5,662.5 414.5,672.5 422.5,674.5 430.5,668.5 438.5,659.5 446.5,671.5 454.5,669.5 462.5,661.5 470.5,662.5 478.5,673.5 486.5,680.5 494.5,674.5 502.5,668.5 510.5,675.5 518.5,672.5 526.5,669.5 534.5,667.5 542.5,664.5 550.5,660.5 558.5,665.5 566.5,673.5 574.5,666.5 582.5,662.5 590.5,650.5 598.5,654.5 606.5,652.5 614.5,656.5 622.5,658.5 630.5,660.5 638.5,664.5 646.5,672.5 654.5,671.5 662.5,671.5 670.5,669.5 678.5,665.5 686.5,665.5 694.5,664.5 702.5,677.5 710.5,679.5 718.5,673.5 726.5,661.5 734.5,665.5 742.5,664.5 750.5,659.5 758.5,657.5 766.5,647.5 774.5,643.5 782.5,646.5 790.5,645.5 798.5,646.5 806.5,650.5 814.5,659.5 822.5,657.5 830.5,653.5 838.5,645.5 846.5,642.5 854.5,650.5 862.5,650.5 870.5,643.5 878.5,640.5 886.5,647.5 894.5,652.5 902.5,661.5 910.5,664.5 918.5,668.5 926.5,665.5 934.5,668.5 942.5,672.5 950.5,676.5 958.5,664.5 966.5,673.5 974.5,686.5 982.5,686.5 990.5,686.5 998.5,691.5 1006.5,680.5 1014.5,683.5 1022.5,690.5 1030.5,688.5 1038.5,688.5 1046.5,692.5 1054.5,695.5 1062.5,682.5 1070.5,690.5 1078.5,692.5 1086.5,695.5 1094.5,687.5 1102.5,697.5 1110.5,677.5 1118.5,675.5 1126.5,679.5 1134.5,675.5 1142.5,669.5 1150.5,673.5 1158.5,665.5 1166.5,677.5 1174.5,679.5 1182.5,678.5 1190.5,679.5 1198.5,684.5 1206.5,698.5 1214.5,693.5 1222.5,693.5 1230.5,697.5 1238.5,702.5 1246.5,695.5 1254.5,690.5 1262.5,692.5 1270.5,693.5 1278.5,695.5 1286.5,697.5 1294.5,703.5 1302.5,684.5 1310.5,687.5 1318.5,689.5 1326.5,688.5 1334.5,689.5 1342.5,684.5 1350.5,689.5 1358.5,692.5 1366.5,688.5 1374.5,686.5 1382.5,691.5 1390.5,683.5 1398.5,688.5 1406.5,689.5 1414.5,692.5"/>
</g>
<rect x="0" y="30" width="1585" height="1" fill="#000"/>
<rect x="1584" y="30" width="1" height="726" fill="#000"/>
<rect x="0" y="439" width="1585" height="1" fill="#000"/>
<rect x="0" y="440" width="1632" height="1" fill="#fff"/>
<rect x="0" y="441" width="1585" height="1" fill="#000"/>
<rect x="0" y="603" width="1585" height="1" fill="#000"/>
<rect x="0" y="604" width="1584" height="1" fill="#fff"/>
<rect x="0" y="605" width="1585" height="1" fill="#000"/>
<rect x="0" y="755" width="1585" height="1" fill="#000"/>
<rect x="1584" y="440" width="1" height="1" fill="#fff"/>
<rect x="1584" y="604" width="1" height="1" fill="#fff"/>
<rect x="1630" y="28" width="1" height="747" fill="#dcdcdc"/>
<rect x="1631" y="28" width="1" height="747" fill="#f4f4f4"/>
<g font-family="Liberation Sans, sans-serif" font-size="9.2px" fill="#000" stroke="#000" stroke-width="0.13" shape-rendering="auto" text-rendering="geometricPrecision">
<rect x="1585" y="40" width="2" height="1" fill="#000"/>
<text x="1590.4" y="43.9">145.170</text>
<rect x="1585" y="73" width="2" height="1" fill="#000"/>
<text x="1590.4" y="76.9">144.120</text>
<rect x="1585" y="106" width="2" height="1" fill="#000"/>
<text x="1590.4" y="109.9">143.070</text>
<rect x="1585" y="139" width="2" height="1" fill="#000"/>
<text x="1590.4" y="142.9">142.020</text>
<rect x="1585" y="172" width="2" height="1" fill="#000"/>
<text x="1590.4" y="175.9">141.000</text>
<rect x="1585" y="205" width="2" height="1" fill="#000"/>
<text x="1590.4" y="208.9">139.950</text>
<rect x="1585" y="238" width="2" height="1" fill="#000"/>
<text x="1590.4" y="241.9">138.900</text>
<rect x="1585" y="271" width="2" height="1" fill="#000"/>
<text x="1590.4" y="274.9">137.850</text>
<rect x="1585" y="304" width="2" height="1" fill="#000"/>
<text x="1590.4" y="307.9">136.830</text>
<rect x="1585" y="337" width="2" height="1" fill="#000"/>
<text x="1590.4" y="340.9">135.780</text>
<rect x="1585" y="370" width="2" height="1" fill="#000"/>
<text x="1590.4" y="373.9">134.730</text>
<rect x="1585" y="403" width="2" height="1" fill="#000"/>
<text x="1590.4" y="406.9">133.680</text>
<rect x="1585" y="436" width="2" height="1" fill="#000"/>
<text x="1590.4" y="439.9">132.660</text>
<rect x="1585" y="443" width="1" height="1" fill="#000"/>
<text x="1588" y="452.2">0.9066</text>
<rect x="1585" y="503" width="1" height="1" fill="#000"/>
<text x="1588" y="507.1">0.00</text>
<rect x="1585" y="602" width="1" height="1" fill="#000"/>
<text x="1588" y="600.2">-1.498</text>
<rect x="1585" y="607" width="1" height="1" fill="#000"/>
<text x="1588" y="616.2">100</text>
<text x="1587" y="640.1">80</text>
<text x="1587" y="684.1">50</text>
<text x="1587" y="736.1">15</text>
<rect x="1585" y="754" width="1" height="1" fill="#000"/>
<text x="1588" y="752">0</text>
<rect x="1586" y="69" width="41" height="11" fill="#ff0000"/>
<rect x="1579" y="73" width="5" height="5" fill="#ff0000"/>
<rect x="1580" y="74" width="3" height="3" fill="#fff"/>
<text x="1590.3" y="78.3" fill="#fff" stroke="#fff">144.050</text>
<rect x="1586" y="96" width="41" height="11" fill="#ff0000"/>
<rect x="1579" y="100" width="5" height="5" fill="#ff0000"/>
<rect x="1580" y="101" width="3" height="3" fill="#fff"/>
<text x="1590.3" y="105.3" fill="#fff" stroke="#fff">143.215</text>
<rect x="1586" y="117" width="41" height="11" fill="#32cd32"/>
<rect x="1579" y="121" width="5" height="5" fill="#32cd32"/>
<rect x="1580" y="122" width="3" height="3" fill="#fff"/>
<text x="1590.3" y="126.3" fill="#fff" stroke="#fff">142.530</text>
<rect x="1586" y="139" width="41" height="11" fill="#000"/>
<text x="1590.3" y="148.3" fill="#fff" stroke="#fff">141.889</text>
<rect x="1586" y="162" width="41" height="11" fill="#0000ff"/>
<rect x="1579" y="166" width="5" height="5" fill="#0000ff"/>
<rect x="1580" y="167" width="3" height="3" fill="#fff"/>
<text x="1590.3" y="171.3" fill="#fff" stroke="#fff">141.112</text>
<rect x="1586" y="186" width="41" height="11" fill="#0000ff"/>
<rect x="1579" y="190" width="5" height="5" fill="#0000ff"/>
<rect x="1580" y="191" width="3" height="3" fill="#fff"/>
<text x="1590.3" y="195.3" fill="#fff" stroke="#fff">140.355</text>
<rect x="-2" y="121" width="5" height="5" fill="#32cd32"/>
<rect x="-1" y="122" width="3" height="3" fill="#fff"/>
<rect x="-2" y="166" width="5" height="5" fill="#0000ff"/>
<rect x="-1" y="167" width="3" height="3" fill="#fff"/>
<rect x="-2" y="190" width="5" height="5" fill="#0000ff"/>
<rect x="-1" y="191" width="3" height="3" fill="#fff"/>
<rect x="-2" y="756" width="1" height="3" fill="#000"/>
<text x="-2.3" y="768.2" font-size="9.12px">31 Dec 2018</text>
<rect x="62" y="756" width="1" height="3" fill="#000"/>
<text x="61.7" y="768.2" font-size="9.12px">2 Jan 16:00</text>
<rect x="126" y="756" width="1" height="3" fill="#000"/>
<text x="125.7" y="768.2" font-size="9.12px">4 Jan 00:00</text>
<rect x="190" y="756" width="1" height="3" fill="#000"/>
<text x="189.7" y="768.2" font-size="9.12px">7 Jan 08:00</text>
<rect x="254" y="756" width="1" height="3" fill="#000"/>
<text x="253.7" y="768.2" font-size="9.12px">8 Jan 16:00</text>
<rect x="318" y="756" width="1" height="3" fill="#000"/>
<text x="317.7" y="768.2" font-size="9.12px">10 Jan 00:00</text>
<rect x="382" y="756" width="1" height="3" fill="#000"/>
<text x="381.7" y="768.2" font-size="9.12px">11 Jan 08:00</text>
<rect x="446" y="756" width="1" height="3" fill="#000"/>
<text x="445.7" y="768.2" font-size="9.12px">14 Jan 16:00</text>
<rect x="510" y="756" width="1" height="3" fill="#000"/>
<text x="509.7" y="768.2" font-size="9.12px">16 Jan 00:00</text>
<rect x="574" y="756" width="1" height="3" fill="#000"/>
<text x="573.7" y="768.2" font-size="9.12px">17 Jan 08:00</text>
<rect x="638" y="756" width="1" height="3" fill="#000"/>
<text x="637.7" y="768.2" font-size="9.12px">18 Jan 16:00</text>
<rect x="702" y="756" width="1" height="3" fill="#000"/>
<text x="701.7" y="768.2" font-size="9.12px">22 Jan 00:00</text>
<rect x="766" y="756" width="1" height="3" fill="#000"/>
<text x="765.7" y="768.2" font-size="9.12px">23 Jan 08:00</text>
<rect x="830" y="756" width="1" height="3" fill="#000"/>
<text x="829.7" y="768.2" font-size="9.12px">24 Jan 16:00</text>
<rect x="894" y="756" width="1" height="3" fill="#000"/>
<text x="893.7" y="768.2" font-size="9.12px">28 Jan 00:00</text>
<rect x="958" y="756" width="1" height="3" fill="#000"/>
<text x="957.7" y="768.2" font-size="9.12px">29 Jan 08:00</text>
<rect x="1022" y="756" width="1" height="3" fill="#000"/>
<text x="1021.7" y="768.2" font-size="9.12px">30 Jan 16:00</text>
<rect x="1086" y="756" width="1" height="3" fill="#000"/>
<text x="1085.7" y="768.2" font-size="9.12px">1 Feb 00:00</text>
<rect x="1150" y="756" width="1" height="3" fill="#000"/>
<text x="1149.7" y="768.2" font-size="9.12px">4 Feb 08:00</text>
<rect x="1214" y="756" width="1" height="3" fill="#000"/>
<text x="1213.7" y="768.2" font-size="9.12px">5 Feb 16:00</text>
<rect x="1278" y="756" width="1" height="3" fill="#000"/>
<text x="1277.7" y="768.2" font-size="9.12px">7 Feb 00:00</text>
<rect x="1342" y="756" width="1" height="3" fill="#000"/>
<text x="1341.7" y="768.2" font-size="9.12px">8 Feb 08:00</text>
<rect x="1406" y="756" width="1" height="3" fill="#000"/>
<text x="1405.7" y="768.2" font-size="9.12px">11 Feb 16:00</text>
<text x="13.4" y="41.8" font-size="9.32px">GBPJPY-,H4&#160;&#160;141.964 141.991 141.889 141.889</text>
<path d="M1.5 41.5 L8.5 41.5 L5 37.2 Z" fill="#000"/>
<text x="2.3" y="454" font-size="9.36px">MACD(12,26,9) -0.1622 -0.1810</text>
<text x="2.3" y="617.9">RSI(14) 43.1029</text>
</g>
<path d="M1420 31 L1430 31 L1425 36 Z" fill="#b0b0b0" shape-rendering="auto"/>
<g shape-rendering="auto" fill="#00ff00"><text x="1062" y="134.6" font-family="Liberation Serif, Noto Serif CJK SC, serif" font-weight="600" font-size="20px" letter-spacing="2.8">多空转折点</text><text x="1175" y="135.3" font-family="Liberation Sans, sans-serif" font-weight="bold" font-size="21.6px">142.530</text></g>
</svg><div id="tp">
<div class="rb" style="left:1px;top:4px;width:52px;height:25px;border-bottom:0;background:linear-gradient(#f64c4c,#e03232)"></div>
<div class="rb" style="left:168px;top:4px;width:52px;height:25px;border-bottom:0;background:linear-gradient(#f64c4c,#e03232)"></div>
<div class="rb" style="left:1px;top:28px;width:109px;height:40px;background:linear-gradient(#dc2e2e,#c41818 50%,#ae0808)"></div><div style="position:absolute;left:2px;top:28px;width:50px;height:1px;background:#de3030"></div>
<div class="rb" style="left:112px;top:28px;width:108px;height:40px;background:linear-gradient(#dc2e2e,#c41818 50%,#ae0808)"></div><div style="position:absolute;left:169px;top:28px;width:50px;height:1px;background:#de3030"></div>
<div style="position:absolute;left:5px;top:27px;width:44px;height:1px;background:#b41818;box-shadow:0 1px 0 #f08c8c"></div>
<div style="position:absolute;left:172px;top:27px;width:44px;height:1px;background:#b41818;box-shadow:0 1px 0 #f08c8c"></div>
<div class="rt" style="left:13.4px;top:8.5px;font-size:12px;line-height:14px;transform:scaleX(.88);transform-origin:0 0">SELL</div>
<div class="rt" style="left:181.8px;top:8.5px;font-size:12px;line-height:14px;transform:scaleX(.94);transform-origin:0 0">BUY</div>
<div style="position:absolute;left:55px;top:4px;width:111px;height:22px;box-sizing:border-box;border:1px solid #ababab;background:#fff"></div>
<div style="position:absolute;left:56px;top:5px;width:20px;height:20px;background:#e9e9e9;border-right:1px solid #c4c4c4"></div>
<div style="position:absolute;left:144px;top:5px;width:21px;height:20px;background:#e9e9e9;border-left:1px solid #c4c4c4;box-sizing:border-box"></div>
<div style="position:absolute;left:62.5px;top:13px;width:0;height:0;border:3px solid transparent;border-top:3.5px solid #000;border-bottom:0"></div>
<div style="position:absolute;left:151.5px;top:12.5px;width:0;height:0;border:3px solid transparent;border-bottom:3.5px solid #000;border-top:0"></div>
<div style="position:absolute;left:100px;top:7.5px;width:41px;text-align:right;font-size:12.2px;line-height:14px;color:#0a1830">0.10</div>
<div class="rt" style="left:24.5px;top:47px;font-size:11.6px;font-weight:bold;line-height:14px">141</div>
<div class="rt" style="left:48.6px;top:30px;font-size:31.5px;line-height:34px;letter-spacing:-0.6px">88</div>
<div class="rt" style="left:88px;top:31.2px;font-size:11.6px;font-weight:bold;line-height:14px">9</div>
<div class="rt" style="left:134.5px;top:47px;font-size:11.6px;font-weight:bold;line-height:14px">141</div>
<div class="rt" style="left:159.8px;top:30px;font-size:31.5px;line-height:34px;letter-spacing:-0.6px">96</div>
<div class="rt" style="left:199px;top:31.2px;font-size:11.6px;font-weight:bold;line-height:14px">2</div>
</div>
</body></html>
